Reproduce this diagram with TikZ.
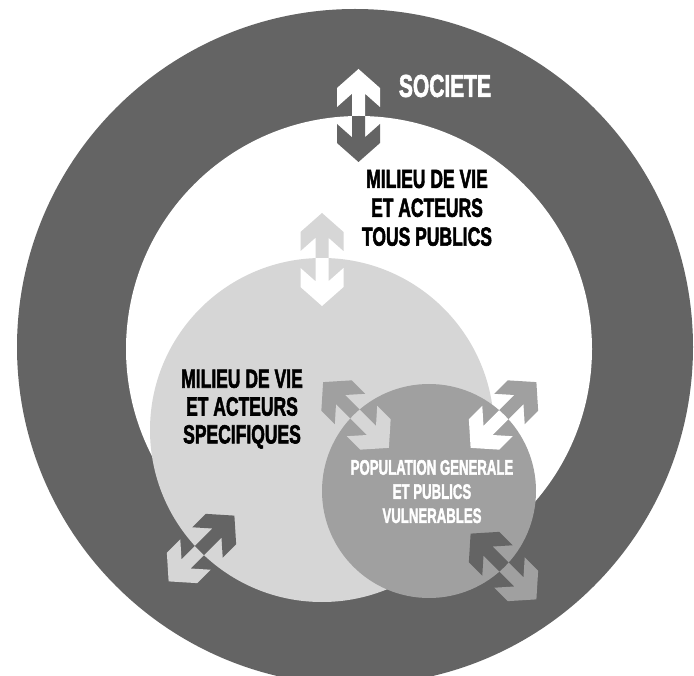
\documentclass[tikz,border=0pt]{standalone}
\usepackage{fontspec}
\setmainfont{Liberation Sans}
\newfontfamily\heavyfont{Liberation Sans}[BoldFeatures={FakeBold=2.5}]
\usepackage{graphicx}
\definecolor{darkg}{HTML}{646464}
\definecolor{lightg}{HTML}{D6D6D6}
\definecolor{medg}{HTML}{A0A0A0}
\begin{document}
\begin{tikzpicture}[x=1pt,y=-1pt,
  dblarrow/.pic={\fill[pic actions] (0,46.5) -- (21.5,27.5) -- (21.5,8.5) -- (6.5,21.8) -- (6.5,-21.8) -- (21.5,-8.5) -- (21.5,-27.5) -- (0,-46.5) -- (-21.5,-27.5) -- (-21.5,-8.5) -- (-6.5,-21.8) -- (-6.5,21.8) -- (-21.5,8.5) -- (-21.5,27.5) -- cycle;},
  lbl/.style={inner sep=0pt, align=center, font=\heavyfont\bfseries}]
\useasboundingbox (0,0) rectangle (694,676);
% circles
\coordinate (cSoc) at (355,347);
\coordinate (cTous) at (359,349);
\coordinate (cSpec) at (322,430);
\coordinate (cPop) at (429,491);
\fill[darkg] (cSoc) circle (338);
\fill[white] (cTous) circle (233);
\fill[lightg] (cSpec) circle (172);
\fill[medg] (cPop) circle (107);
% arrow 1 (societe / tous publics)
\pic[fill=white] at (358.5,115.5) {dblarrow};
\begin{scope}\clip (cTous) circle (233);
  \pic[fill=darkg] at (358.5,115.5) {dblarrow};
\end{scope}
% arrow 2 (tous publics / specifiques)
\pic[fill=lightg] at (322,259.5) {dblarrow};
\begin{scope}\clip (cSpec) circle (172);
  \pic[fill=white] at (322,259.5) {dblarrow};
\end{scope}
% arrow 3 (specifiques / population), NW-SE
\pic[fill=medg, rotate=45] at (356,415) {dblarrow};
\begin{scope}\clip (cPop) circle (107);
  \pic[fill=lightg, rotate=45] at (356,415) {dblarrow};
\end{scope}
% arrow 4 (tous publics / population), NE-SW
\pic[fill=medg, rotate=-45] at (503.5,415) {dblarrow};
\begin{scope}\clip (cPop) circle (107);
  \pic[fill=white, rotate=-45] at (503.5,415) {dblarrow};
\end{scope}
% arrow 5 (societe / population), NW-SE
\pic[fill=medg, rotate=45] at (503.5,566.5) {dblarrow};
\begin{scope}\clip (cPop) circle (107);
  \pic[fill=darkg, rotate=45] at (503.5,566.5) {dblarrow};
\end{scope}
% arrow 6 (societe / specifiques), NE-SW
\pic[fill=lightg, rotate=-45] at (201.5,548.5) {dblarrow};
\begin{scope}\clip (cSpec) circle (172);
  \pic[fill=darkg, rotate=-45] at (201.5,548.5) {dblarrow};
\end{scope}
% labels
\node[lbl, text=white] (soc) at (445,86) {\fontsize{30}{33}\selectfont\scalebox{0.7}[1.05]{SOCIETE}};
\node[lbl] (tous) at (427,211) {\fontsize{25}{27.5}\selectfont\scalebox{0.7}[1.05]{\begin{tabular}{@{}c@{}}MILIEU DE VIE\\ET ACTEURS\\TOUS PUBLICS\end{tabular}}};
\node[lbl] (spec) at (242,410) {\fontsize{25}{26.5}\selectfont\scalebox{0.7}[1.05]{\begin{tabular}{@{}c@{}}MILIEU DE VIE\\ET ACTEURS\\SPECIFIQUES\end{tabular}}};
\node[lbl, text=white] (pop) at (432,494) {\fontsize{20}{23}\selectfont\scalebox{0.66}[1.05]{\begin{tabular}{@{}c@{}}POPULATION GENERALE\\ET PUBLICS\\VULNERABLES\end{tabular}}};
\end{tikzpicture}
\end{document}
